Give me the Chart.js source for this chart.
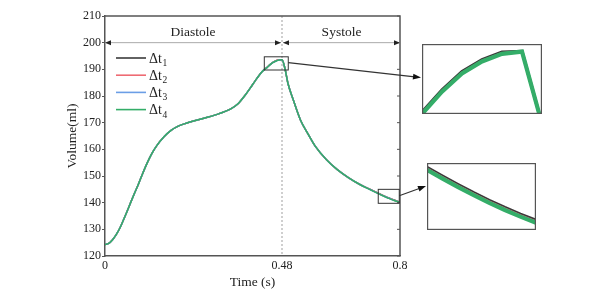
<!DOCTYPE html>
<html>
<head>
<meta charset="utf-8">
<title>Volume vs time</title>
<script src="https://cdn.jsdelivr.net/npm/chart.js@4.4.1/dist/chart.umd.min.js"></script>
<style>
  body { margin: 0; background: #fff; }
  #wrap { position: relative; width: 603px; height: 295px; }
  #wrap canvas { position: absolute; }
  #main { left: 0; top: 0; }
  #zoomA { left: 422px; top: 44px; }
  #zoomB { left: 427px; top: 163px; }
</style>
</head>
<body>
<div id="wrap">
  <canvas id="main" width="603" height="295"></canvas>
  <canvas id="zoomA" width="120" height="70"></canvas>
  <canvas id="zoomB" width="109" height="67"></canvas>
</div>
<script>
// ---- data ----
let timeS = [0, 0.01, 0.02, 0.03, 0.04, 0.05, 0.06, 0.07, 0.08, 0.09,
  0.10, 0.11, 0.12, 0.13, 0.14, 0.16, 0.18, 0.20, 0.22, 0.25,
  0.28, 0.31, 0.34, 0.36, 0.38, 0.40, 0.412, 0.424, 0.432, 0.44,
  0.448, 0.456, 0.464, 0.472, 0.48, 0.488, 0.496, 0.51, 0.53, 0.55,
  0.57, 0.60, 0.63, 0.66, 0.69, 0.72, 0.744, 0.752, 0.76, 0.768,
  0.776, 0.784, 0.792, 0.8];

let volDt1 = [124.3, 124.7, 126.0, 127.9, 130.4, 133.5, 136.8, 140.2, 143.5, 146.7,
  150.2, 153.5, 156.5, 159.1, 161.3, 164.7, 167.2, 168.8, 169.8, 171.0,
  172.1, 173.4, 175.1, 177.0, 180.3, 184.2, 186.6, 188.8, 189.99, 190.84,
  191.86, 192.69, 193.24, 193.59, 193.62, 190.3, 184.8, 178.8, 171.0, 165.9,
  161.2, 156.2, 152.4, 149.4, 146.9, 144.95, 143.35, 142.83, 142.33, 141.85,
  141.4, 140.98, 140.59, 140.23];

let volDt2 = [124.3, 124.7, 126.0, 127.9, 130.4, 133.5, 136.8, 140.2, 143.5, 146.7,
  150.2, 153.5, 156.5, 159.1, 161.3, 164.7, 167.2, 168.8, 169.8, 171.0,
  172.1, 173.4, 175.1, 177.0, 180.3, 184.2, 186.6, 188.8, 189.95, 190.8,
  191.82, 192.65, 193.2, 193.55, 193.6, 190.3, 184.8, 178.8, 171.0, 165.9,
  161.2, 156.2, 152.4, 149.4, 146.9, 144.9, 143.3, 142.78, 142.28, 141.8,
  141.35, 140.93, 140.54, 140.18];

let volDt3 = [124.3, 124.7, 126.0, 127.9, 130.4, 133.5, 136.8, 140.2, 143.5, 146.7,
  150.2, 153.5, 156.5, 159.1, 161.3, 164.7, 167.2, 168.8, 169.8, 171.0,
  172.1, 173.4, 175.1, 177.0, 180.3, 184.2, 186.6, 188.8, 189.9, 190.75,
  191.77, 192.6, 193.15, 193.5, 193.6, 190.3, 184.8, 178.8, 171.0, 165.9,
  161.2, 156.2, 152.4, 149.4, 146.9, 144.83, 143.23, 142.71, 142.21, 141.73,
  141.28, 140.86, 140.47, 140.11];

let volDt4 = [124.3, 124.7, 126.0, 127.9, 130.4, 133.5, 136.8, 140.2, 143.5, 146.7,
  150.2, 153.5, 156.5, 159.1, 161.3, 164.7, 167.2, 168.8, 169.8, 171.0,
  172.1, 173.4, 175.1, 177.0, 180.3, 184.2, 186.6, 188.8, 189.9, 190.75,
  191.77, 192.6, 193.15, 193.5, 193.6, 190.3, 184.8, 178.8, 171.0, 165.9,
  161.2, 156.2, 152.4, 149.4, 146.9, 144.8, 143.2, 142.68, 142.18, 141.7,
  141.25, 140.83, 140.44, 140.08];

let seriesNames = ['Δt1', 'Δt2', 'Δt3', 'Δt4'];
let xTicks = [0, 0.48, 0.8];
let yTicks = [120, 130, 140, 150, 160, 170, 180, 190, 200, 210];
let phaseNames = ['Diastole', 'Systole'];
let phaseEdges = [0, 0.48, 0.8];
let phaseLevel = 200;

// zoomed windows: [tmin, tmax, vmin, vmax]
let boxA = [0.432, 0.497, 189.75, 194.7];
let boxB = [0.741, 0.798, 139.76, 145];
let insetA = [0.44, 0.488, 190.75, 193.95];
let insetB = [0.744, 0.8, 139.65, 143.6];

let colors = ['#3a3a3a', '#ee6b73', '#6b9ee6', '#34ad68'];
let serif = '"Liberation Serif", "Times New Roman", serif';

function toXY(vals) {
  return vals.map((v, i) => ({ x: timeS[i], y: v }));
}

function makeSets(widths, smooth) {
  let all = [volDt1, volDt2, volDt3, volDt4];
  return all.map((vals, i) => ({
    label: seriesNames[i],
    data: toXY(vals),
    borderColor: colors[i],
    backgroundColor: colors[i],
    borderWidth: widths[i],
    pointRadius: 0,
    tension: 0,
    cubicInterpolationMode: smooth ? 'monotone' : 'default',
    order: 3 - i   // green ends on top
  }));
}

function arrowHead(ctx, x1, y1, x2, y2, len, half) {
  let a = Math.atan2(y2 - y1, x2 - x1);
  let bx = x2 - len * Math.cos(a), by = y2 - len * Math.sin(a);
  ctx.beginPath();
  ctx.moveTo(x2, y2);
  ctx.lineTo(bx + half * Math.sin(a), by - half * Math.cos(a));
  ctx.lineTo(bx - half * Math.sin(a), by + half * Math.cos(a));
  ctx.closePath();
  ctx.fill();
}

let mainDecor = {
  id: 'mainDecor',
  beforeDatasetsDraw(chart) {
    let { ctx, chartArea: a, scales: { x } } = chart;
    let px = x.getPixelForValue(phaseEdges[1]);
    ctx.save();
    ctx.strokeStyle = '#888';
    ctx.lineWidth = 0.8;
    ctx.setLineDash([2, 2]);
    ctx.beginPath();
    ctx.moveTo(px, a.top);
    ctx.lineTo(px, a.bottom);
    ctx.stroke();
    ctx.restore();
  },
  afterDraw(chart) {
    let { ctx, chartArea: a, scales: { x, y } } = chart;
    ctx.save();

    // top + right frame, right ticks pointing in
    ctx.strokeStyle = '#555';
    ctx.lineWidth = 1.5;
    ctx.beginPath();
    ctx.moveTo(a.left, a.top);
    ctx.lineTo(a.right, a.top);
    ctx.lineTo(a.right, a.bottom);
    ctx.stroke();
    ctx.lineWidth = 1;
    yTicks.forEach(v => {
      let py = y.getPixelForValue(v);
      ctx.beginPath();
      ctx.moveTo(a.right, py);
      ctx.lineTo(a.right - 3, py);
      ctx.stroke();
    });

    // diastole / systole spans
    let py = y.getPixelForValue(phaseLevel);
    ctx.font = '13.5px ' + serif;
    ctx.textAlign = 'center';
    ctx.textBaseline = 'middle';
    for (let i = 0; i < phaseNames.length; i++) {
      let x0 = x.getPixelForValue(phaseEdges[i]) + (i > 0 ? 1 : 0);
      let x1 = x.getPixelForValue(phaseEdges[i + 1]) - (i === 0 ? 1 : 0);
      ctx.strokeStyle = '#aaa';
      ctx.lineWidth = 1;
      ctx.beginPath();
      ctx.moveTo(x0, py);
      ctx.lineTo(x1, py);
      ctx.stroke();
      ctx.fillStyle = '#222';
      arrowHead(ctx, x1, py, x0, py, 6, 2.5);
      arrowHead(ctx, x0, py, x1, py, 6, 2.5);
      ctx.fillText(phaseNames[i], (x0 + x1) / 2, py - 10);
    }

    // zoom boxes and pointers to the insets
    let boxes = [[boxA, [421, 77.5], 192.5], [boxB, [426, 186], 142.6]];
    ctx.strokeStyle = '#333';
    ctx.fillStyle = '#111';
    boxes.forEach(([b, tip, vMid]) => {
      let l = x.getPixelForValue(b[0]), r = x.getPixelForValue(b[1]);
      let t = y.getPixelForValue(b[3]), bt = y.getPixelForValue(b[2]);
      ctx.lineWidth = 1;
      ctx.strokeRect(l, t, r - l, bt - t);
      let sy = y.getPixelForValue(vMid);
      ctx.lineWidth = 1.2;
      ctx.beginPath();
      ctx.moveTo(r, sy);
      ctx.lineTo(tip[0] - 4, tip[1] - (tip[1] - sy) * 4 / (tip[0] - r));
      ctx.stroke();
      arrowHead(ctx, r, sy, tip[0], tip[1], 8, 3);
    });

    // legend, with subscript index
    chart.data.datasets.forEach((ds, i) => {
      let ly = 58 + i * 17.2;
      ctx.strokeStyle = ds.borderColor;
      ctx.lineWidth = 1.6;
      ctx.beginPath();
      ctx.moveTo(116, ly);
      ctx.lineTo(146, ly);
      ctx.stroke();
      ctx.fillStyle = '#222';
      ctx.textAlign = 'left';
      ctx.textBaseline = 'middle';
      ctx.font = '14px ' + serif;
      let main = ds.label.slice(0, -1);
      ctx.fillText(main, 149, ly + 1);
      let w = ctx.measureText(main).width;
      ctx.font = '9.5px ' + serif;
      ctx.fillText(ds.label.slice(-1), 149 + w + 0.5, ly + 5.5);
    });

    ctx.restore();
  }
};

new Chart(document.getElementById('main'), {
  type: 'line',
  data: { datasets: makeSets([1.5, 1.5, 1.5, 1.5], true) },
  options: {
    responsive: false,
    animation: false,
    events: [],
    layout: { padding: { left: 0, right: 203, top: 16, bottom: 0 } },
    plugins: { legend: { display: false }, tooltip: { enabled: false } },
    scales: {
      x: {
        type: 'linear',
        min: 0,
        max: 0.8,
        afterBuildTicks: s => { s.ticks = xTicks.map(v => ({ value: v })); },
        afterFit: s => { s.height = 39; },
        grid: { drawOnChartArea: false, drawTicks: false },
        border: { color: '#555', width: 1.5 },
        ticks: {
          padding: 3,
          maxRotation: 0,
          color: '#222',
          font: { family: serif, size: 12 },
          callback: v => String(v)
        },
        title: {
          display: true,
          text: 'Time (s)',
          color: '#222',
          font: { family: serif, size: 13.5 },
          padding: { top: 0, bottom: 4 }
        }
      },
      y: {
        min: 120,
        max: 210,
        afterBuildTicks: s => { s.ticks = yTicks.map(v => ({ value: v })); },
        afterFit: s => { s.width = 105; },
        grid: { drawOnChartArea: false, tickLength: 3, color: '#555' },
        border: { color: '#555', width: 1.5 },
        ticks: {
          padding: 1,
          color: '#222',
          font: { family: serif, size: 12 }
        },
        title: {
          display: true,
          text: 'Volume(ml)',
          color: '#222',
          font: { family: serif, size: 13.5 },
          padding: { top: 64, bottom: 0 }
        }
      }
    }
  },
  plugins: [mainDecor]
});

// ---- the two enlarged windows ----
let frame = {
  id: 'frame',
  afterDraw(chart) {
    let { ctx, width, height } = chart;
    ctx.save();
    ctx.strokeStyle = '#555';
    ctx.lineWidth = 1.2;
    ctx.strokeRect(0.6, 0.6, width - 1.2, height - 1.2);
    ctx.restore();
  }
};

function insetChart(id, win) {
  new Chart(document.getElementById(id), {
    type: 'line',
    data: { datasets: makeSets([3.0, 1.6, 2.6, 4.2], false) },
    options: {
      responsive: false,
      animation: false,
      events: [],
      layout: { padding: 0 },
      plugins: { legend: { display: false }, tooltip: { enabled: false } },
      scales: {
        x: { type: 'linear', min: win[0], max: win[1], display: false },
        y: { min: win[2], max: win[3], display: false }
      }
    },
    plugins: [frame]
  });
}

insetChart('zoomA', insetA);
insetChart('zoomB', insetB);
</script>
</body>
</html>
